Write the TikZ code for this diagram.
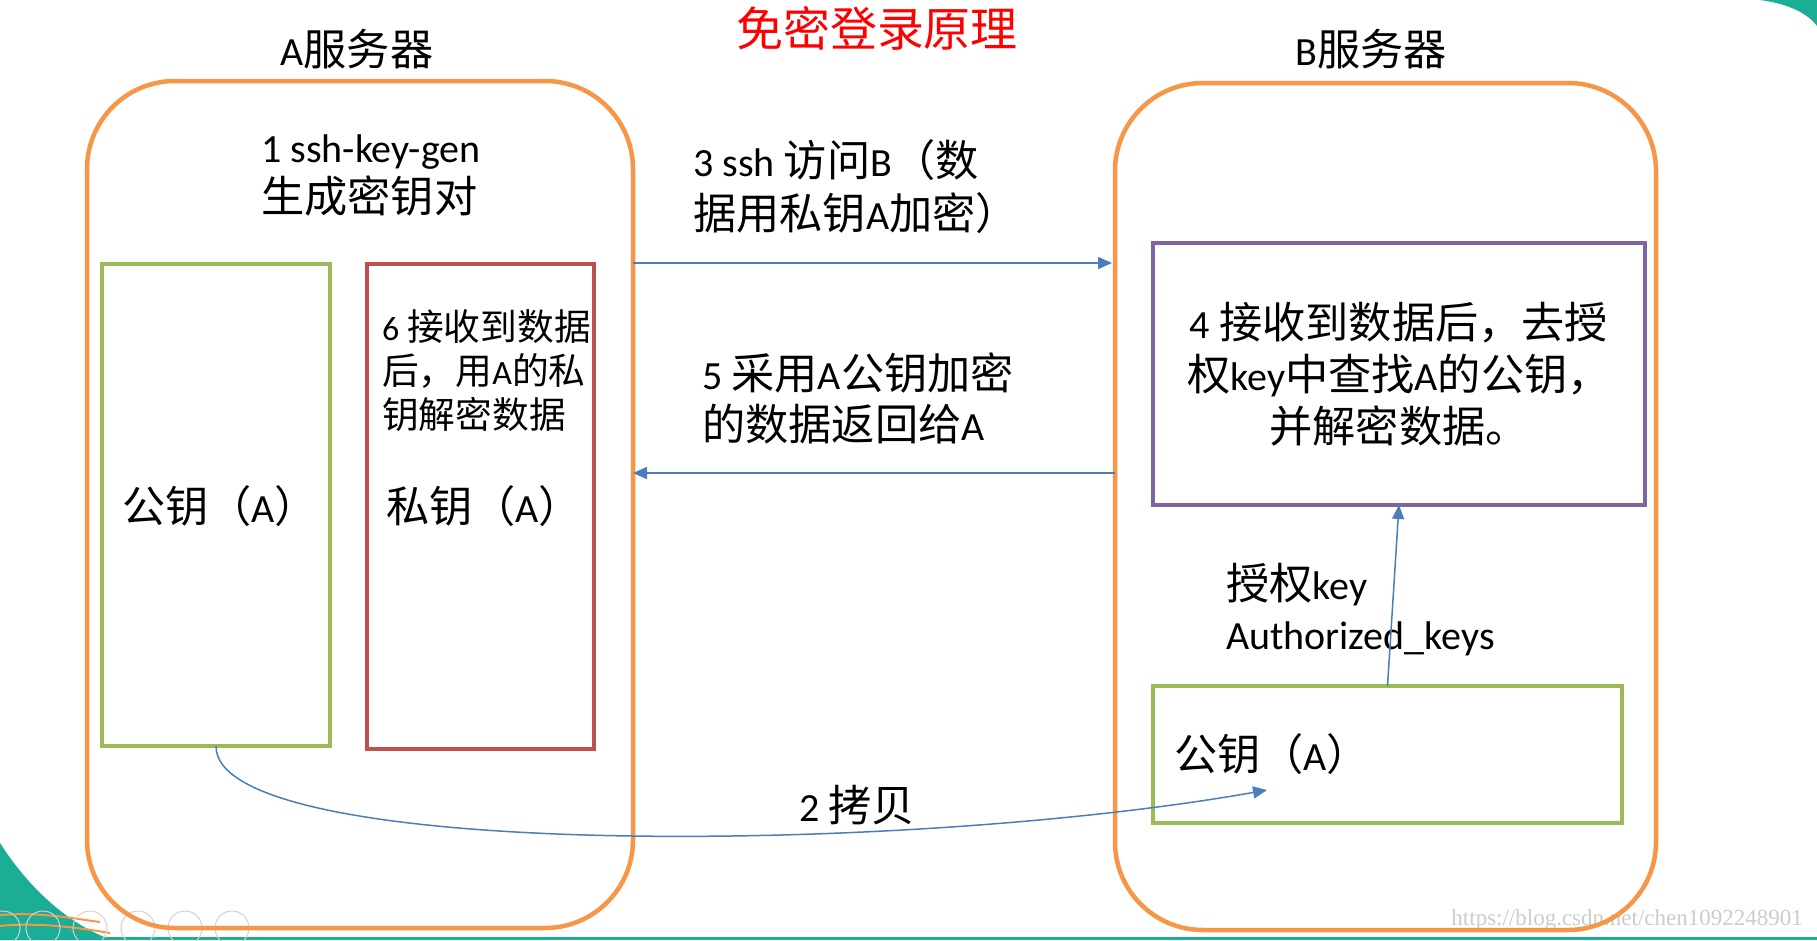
\documentclass[tikz,border=0pt]{standalone}
\usepackage{fontspec}
\setmainfont{Carlito}
\newfontfamily\cjk[Scale=1.08]{Noto Sans CJK SC}
\newfontfamily\wmfont{Liberation Serif}
\usetikzlibrary{arrows.meta,calc}
\definecolor{ofOrange}{HTML}{F79646}
\definecolor{ofGreen}{HTML}{9BBB59}
\definecolor{ofRed}{HTML}{C0504D}
\definecolor{ofPurple}{HTML}{8064A2}
\definecolor{ofBlue}{HTML}{4A7EBB}
\definecolor{bgTeal}{HTML}{1AAE96}
\begin{document}
\begin{tikzpicture}[x=1pt,y=-1pt,
  orangebox/.style={draw=ofOrange, line width=4.5pt, rounded corners=88pt, anchor=north west, inner sep=0pt, outer sep=0pt},
  framebox/.style={line width=4pt, anchor=north west, inner sep=0pt, outer sep=0pt},
  arr/.style={draw=ofBlue, line width=1.5pt, -{Triangle[length=14pt,width=12pt]}},
  lbl/.style={font=\fontsize{40}{50}\selectfont, inner sep=0pt},
  smalllbl/.style={font=\fontsize{34}{44}\selectfont, inner sep=0pt},
  titlelbl/.style={font=\cjk\fontsize{43.5}{46}\selectfont, text=red, inner sep=0pt},
  tbcircle/.style={draw=gray!35, line width=1pt}
]
\fill[white] (0,0) rectangle (1817,940);
\useasboundingbox (0,0) rectangle (1817,940);

% slide background remnants
\fill[bgTeal] (1760,0) .. controls (1790,4) and (1808,14) .. (1817,26) -- (1817,0) -- cycle;
\fill[bgTeal] (0,843) .. controls (30,890) and (70,925) .. (112,940) -- (0,940) -- cycle;
\draw[ofOrange, line width=2pt] (0,915) .. controls (40,912) and (70,918) .. (100,922);
\draw[ofOrange, line width=2pt] (0,926) .. controls (40,922) and (80,928) .. (110,933);
\fill[bgTeal] (0,937) rectangle (1817,940);
\foreach \cx in {3,43,90,138,185,232} \draw[tbcircle] (\cx,928) circle (17);
\foreach \dx in {-7,0,7} \fill[gray!40] (232+\dx,928) circle (2);
\node[font=\wmfont\fontsize{23}{23}\selectfont, text=gray!40, anchor=east, inner sep=0pt] (wm) at (1803,920) {https://blog.csdn.net/chen1092248901};

% servers
\node[orangebox, minimum width=546pt, minimum height=847pt] (boxA) at (87,81) {};
\node[orangebox, minimum width=541pt, minimum height=847pt] (boxB) at (1115,83) {};
\node[lbl] (tA) at (357,49) {A{\cjk 服务器}};
\node[lbl] (tB) at (1371,49) {B{\cjk 服务器}};
\node[titlelbl] (title) at (877,28) {免密登录原理};

% server A content
\node[lbl, anchor=west, align=left] (t1) at (261,175) {1 ssh-key-gen\\{\cjk 生成密钥对}};
\node[framebox, draw=ofGreen, minimum width=228pt, minimum height=482pt] (gA) at (102,264) {};
\node[framebox, draw=ofRed, minimum width=227pt, minimum height=485pt] (rA) at (367,264) {};
\node[lbl, anchor=west] (pubA) at (122,506) {{\cjk 公钥（}A{\cjk ）}};
\node[smalllbl, anchor=west, align=left] (t6) at (382,371) {6 {\cjk 接收到数据}\\{\cjk 后，用}A{\cjk 的私}\\{\cjk 钥解密数据}};
\node[lbl, anchor=west] (privA) at (386,506) {{\cjk 私钥（}A{\cjk ）}};

% server B content
\node[framebox, draw=ofPurple, minimum width=492pt, minimum height=262pt, font=\fontsize{40}{52}\selectfont, align=center] (pB) at (1153,243) {4 {\cjk 接收到数据后，去授}\\{\cjk 权}key{\cjk 中查找}A{\cjk 的公钥，}\\{\cjk 并解密数据。}};
\node[framebox, draw=ofGreen, minimum width=469pt, minimum height=137pt] (gB) at (1153,686) {};
\node[lbl, anchor=west] (pubB) at (1174,754) {{\cjk 公钥（}A{\cjk ）}};
\node[lbl, anchor=west, align=left] (tauth) at (1226,610) {{\cjk 授权}key\\Authorized\_keys};

% messages
\node[lbl, anchor=west, align=left, font=\fontsize{40}{53}\selectfont] (t3) at (693,187) {3 ssh {\cjk 访问}B{\cjk （数}\\{\cjk 据用私钥}A{\cjk 加密）}};
\node[lbl, anchor=west, align=left, font=\fontsize{40}{51}\selectfont] (t5) at (702,398) {5 {\cjk 采用}A{\cjk 公钥加密}\\{\cjk 的数据返回给}A};
\node[lbl] (t2) at (857,805) {2 {\cjk 拷贝}};

\coordinate (y3) at (0,263);
\coordinate (y5) at (0,473);
\coordinate (tip2) at (1267,790);
\draw[arr] (boxA.east |- y3) -- ([xshift=-3pt]boxB.west |- y3);
\draw[arr] (boxB.west |- y5) -- (boxA.east |- y5);
\draw[arr] (gB.north) -- (pB.south);
\draw[arr] (gA.south) .. controls (215,860) and (900,855) .. (tip2);
\end{tikzpicture}
\end{document}
